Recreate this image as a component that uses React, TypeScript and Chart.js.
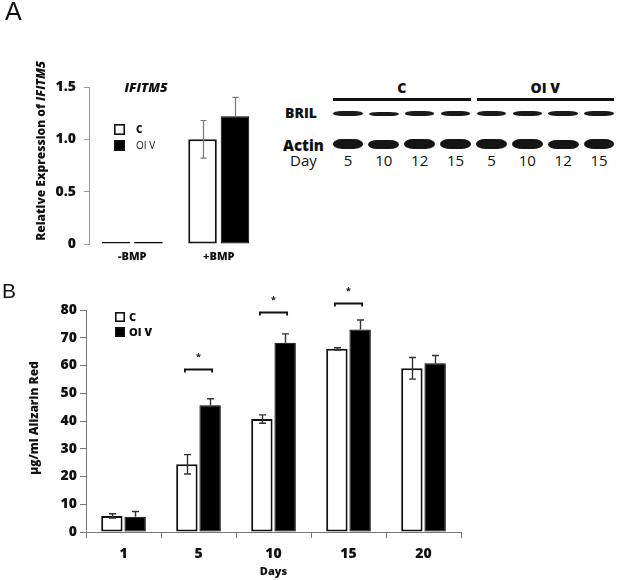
import { useEffect, useRef } from 'react';
import { Chart, registerables } from 'chart.js';

Chart.register(...registerables);

const FONT = '"Open Sans", "DejaVu Sans", sans-serif';
const INK = '#111';
const HEAVY = '800';

// ---------- Panel A data ----------
const aCategories = ['-BMP', '+BMP'];
const aControl = [0.02, 1.0];
const aOIV = [0.02, 1.22];
const aControlErr = [0, 0.18];
const aOIVErr = [0, 0.18];

// ---------- Panel B data ----------
const bDays = ['1', '5', '10', '15', '20'];
const bControl = [5.8, 24.4, 40.7, 66.0, 59.0];
const bOIV = [5.5, 45.7, 68.2, 73.0, 60.8];
const bControlErr = [0.8, 3.5, 1.5, 0.4, 3.9];
const bOIVErr = [1.9, 2.3, 3.2, 3.4, 2.8];
const bSigBracket: (number | null)[] = [null, 58.6, 79.4, 82.6, null];

const seriesLabels = ['C', 'OI V'];

// ---------- Western blot ----------
const blotGroups = ['C', 'OI V'];
const blotDays = ['5', '10', '12', '15'];
const brilIntensity = [1.0, 0.8, 0.95, 0.95, 1.0, 0.9, 0.9, 1.0];
const actinIntensity = [0.95, 0.9, 1.0, 1.0, 1.0, 1.0, 0.9, 1.0];

type Seg = { text: string; italic?: boolean };

interface OverlayCfg {
  errors: number[][];
  errModes: ('both' | 'up')[];
  errColor: string;
  errWidth: number;
  cap: number;
  brackets?: (number | null)[];
  legend: { dx: number; dy: number; size: number; gap: number; rowGap: number; fonts: string[] };
  yTitle: { segs: Seg[]; cx: number; cy: number; size: number };
  title?: { text: string; cx: number; cy: number; font: string };
}

function drawRotated(ctx: CanvasRenderingContext2D, segs: Seg[], cx: number, cy: number, size: number) {
  ctx.save();
  ctx.translate(cx, cy);
  ctx.rotate(-Math.PI / 2);
  const fonts = segs.map((s) => `${s.italic ? 'italic ' : ''}${HEAVY} ${size}px ${FONT}`);
  let total = 0;
  const widths = segs.map((s, i) => {
    ctx.font = fonts[i];
    const w = ctx.measureText(s.text).width;
    total += w;
    return w;
  });
  let x = -total / 2;
  ctx.textBaseline = 'middle';
  ctx.textAlign = 'left';
  ctx.fillStyle = INK;
  segs.forEach((s, i) => {
    ctx.font = fonts[i];
    ctx.fillText(s.text, x, 0);
    x += widths[i];
  });
  ctx.restore();
}

function overlay(name: string, cfg: OverlayCfg) {
  return {
    id: 'overlay_' + name,
    afterDatasetsDraw(chart: any) {
      const ctx: CanvasRenderingContext2D = chart.ctx;
      const ys = chart.scales.y;
      ctx.save();
      cfg.errors.forEach((errs, di) => {
        const meta = chart.getDatasetMeta(di);
        const vals = chart.data.datasets[di].data as number[];
        meta.data.forEach((el: any, i: number) => {
          const e = errs[i];
          if (!e) return;
          const v = vals[i];
          const both = cfg.errModes[di] === 'both';
          const yTop = ys.getPixelForValue(v + e);
          const yBot = ys.getPixelForValue(both ? v - e : v);
          const x = Math.round(el.x) + 0.5;
          ctx.strokeStyle = cfg.errColor;
          ctx.lineWidth = cfg.errWidth;
          ctx.beginPath();
          ctx.moveTo(x, yTop);
          ctx.lineTo(x, yBot);
          ctx.moveTo(x - cfg.cap, yTop);
          ctx.lineTo(x + cfg.cap, yTop);
          if (both) {
            ctx.moveTo(x - cfg.cap, yBot);
            ctx.lineTo(x + cfg.cap, yBot);
          }
          ctx.stroke();
        });
      });
      if (cfg.brackets) {
        const m0 = chart.getDatasetMeta(0);
        const m1 = chart.getDatasetMeta(1);
        cfg.brackets.forEach((bv, i) => {
          if (bv == null) return;
          const x1 = m0.data[i].x - 2;
          const x2 = m1.data[i].x + 2;
          const y = Math.round(ys.getPixelForValue(bv)) + 0.5;
          ctx.strokeStyle = INK;
          ctx.lineWidth = 1.8;
          ctx.beginPath();
          ctx.moveTo(x1, y + 3);
          ctx.lineTo(x1, y);
          ctx.lineTo(x2, y);
          ctx.lineTo(x2, y + 3);
          ctx.stroke();
          ctx.fillStyle = INK;
          ctx.font = `bold 9px ${FONT}`;
          ctx.textAlign = 'center';
          ctx.textBaseline = 'middle';
          ctx.fillText('*', (x1 + x2) / 2, y - 12);
        });
      }
      ctx.restore();
    },
    afterDraw(chart: any) {
      const ctx: CanvasRenderingContext2D = chart.ctx;
      const { left, top } = chart.chartArea;
      const L = cfg.legend;
      ctx.save();
      chart.data.datasets.forEach((ds: any, i: number) => {
        const x = left + L.dx;
        const y = top + L.dy + i * L.rowGap;
        ctx.fillStyle = ds.backgroundColor;
        ctx.fillRect(x, y, L.size, L.size);
        ctx.strokeStyle = INK;
        ctx.lineWidth = 1.6;
        ctx.strokeRect(x + 0.8, y + 0.8, L.size - 1.6, L.size - 1.6);
        ctx.font = L.fonts[i];
        ctx.fillStyle = INK;
        ctx.textBaseline = 'middle';
        ctx.textAlign = 'left';
        ctx.fillText(ds.label, x + L.size + L.gap, y + L.size / 2 + 0.5);
      });
      drawRotated(ctx, cfg.yTitle.segs, cfg.yTitle.cx, cfg.yTitle.cy, cfg.yTitle.size);
      if (cfg.title) {
        ctx.font = cfg.title.font;
        ctx.fillStyle = INK;
        ctx.textAlign = 'center';
        ctx.textBaseline = 'middle';
        ctx.fillText(cfg.title.text, cfg.title.cx, cfg.title.cy);
      }
      ctx.restore();
    },
  };
}

function configA(): any {
  return {
    type: 'bar',
    data: {
      labels: aCategories,
      datasets: [
        { label: seriesLabels[0], data: aControl, backgroundColor: '#ffffff', borderColor: INK, borderWidth: 2, borderSkipped: false },
        { label: seriesLabels[1], data: aOIV, backgroundColor: '#000000', borderColor: '#000000', borderWidth: 1, borderSkipped: false },
      ],
    },
    options: {
      responsive: false,
      animation: false,
      events: [],
      layout: { padding: { top: 87, right: 18, left: 0, bottom: 0 } },
      datasets: { bar: { categoryPercentage: 0.75, barPercentage: 0.88 } },
      plugins: { legend: { display: false }, tooltip: { enabled: false } },
      scales: {
        x: {
          grid: { display: false, drawTicks: false },
          border: { display: false },
          ticks: { color: INK, font: { family: FONT, size: 11, weight: HEAVY }, padding: 6 },
          afterFit: (s: any) => { s.height = 46; },
        },
        y: {
          min: 0,
          max: 1.5,
          ticks: { stepSize: 0.5, color: INK, font: { family: FONT, size: 14, weight: HEAVY }, padding: 8 },
          grid: { drawOnChartArea: false, tickLength: 5, color: '#999' },
          border: { color: '#999', width: 1 },
          afterFit: (s: any) => { s.width = 89; },
        },
      },
    },
    plugins: [
      overlay('a', {
        errors: [aControlErr, aOIVErr],
        errModes: ['both', 'up'],
        errColor: '#777',
        errWidth: 1.2,
        cap: 3,
        legend: { dx: 25, dy: 37, size: 11, gap: 11, rowGap: 16, fonts: [`${HEAVY} 10px ${FONT}`, `10px ${FONT}`] },
        yTitle: { segs: [{ text: 'Relative Expression of ' }, { text: 'IFITM5', italic: true }], cx: 42, cy: 151, size: 12 },
        title: { text: 'IFITM5', cx: 146, cy: 88, font: `italic ${HEAVY} 13px ${FONT}` },
      }),
    ],
  };
}

function configB(): any {
  return {
    type: 'bar',
    data: {
      labels: bDays,
      datasets: [
        { label: seriesLabels[0], data: bControl, backgroundColor: '#ffffff', borderColor: INK, borderWidth: 2, borderSkipped: false },
        { label: seriesLabels[1], data: bOIV, backgroundColor: '#000000', borderColor: '#000000', borderWidth: 1, borderSkipped: false },
      ],
    },
    options: {
      responsive: false,
      animation: false,
      events: [],
      layout: { padding: { top: 30, right: 164, left: 0, bottom: 0 } },
      datasets: { bar: { categoryPercentage: 0.62, barPercentage: 0.92 } },
      plugins: { legend: { display: false }, tooltip: { enabled: false } },
      scales: {
        x: {
          grid: { display: true, drawOnChartArea: false, tickLength: 6, color: '#777' },
          border: { color: '#777', width: 1 },
          ticks: { color: INK, font: { family: FONT, size: 14, weight: HEAVY }, padding: 8 },
          title: { display: true, text: 'Days', color: INK, font: { family: FONT, size: 11, weight: HEAVY }, padding: { top: 0, bottom: 2 } },
          afterFit: (s: any) => { s.height = 48; },
        },
        y: {
          min: 0,
          max: 80,
          ticks: { stepSize: 10, color: INK, font: { family: FONT, size: 14, weight: HEAVY }, padding: 3 },
          grid: { drawOnChartArea: false, tickLength: 6, color: '#777' },
          border: { color: '#777', width: 1 },
          afterFit: (s: any) => { s.width = 86; },
        },
      },
    },
    plugins: [
      overlay('b', {
        errors: [bControlErr, bOIVErr],
        errModes: ['both', 'up'],
        errColor: '#333',
        errWidth: 1.4,
        cap: 3.5,
        brackets: bSigBracket,
        legend: { dx: 29, dy: 2, size: 10, gap: 4, rowGap: 15, fonts: [`${HEAVY} 11px ${FONT}`, `${HEAVY} 11px ${FONT}`] },
        yTitle: { segs: [{ text: 'μg/ml Alizarin Red' }], cx: 35, cy: 138, size: 12 },
      }),
    ],
  };
}

function Blot() {
  const groupW = 287 / blotGroups.length;
  return (
    <>
      {blotGroups.map((g, gi) => (
        <div key={g} style={{ position: 'absolute', left: 330 + gi * groupW, top: 79, width: groupW, textAlign: 'center', color: INK, fontFamily: FONT }}>
          <div style={{ fontWeight: 800, fontSize: 14, lineHeight: '18px' }}>{g}</div>
          <div style={{ height: 3, background: INK, margin: '1px 3px 0' }} />
        </div>
      ))}
      <div style={{ position: 'absolute', left: 285, top: 104, fontFamily: FONT, fontWeight: 800, fontSize: 14, lineHeight: '18px', color: INK }}>BRIL</div>
      <div style={{ position: 'absolute', left: 283, top: 135, fontFamily: FONT, fontWeight: 800, fontSize: 15, lineHeight: '20px', color: INK }}>Actin</div>
      <div style={{ position: 'absolute', left: 290, top: 151, fontFamily: FONT, fontSize: 15, lineHeight: '18px', color: INK }}>Day</div>
      <div style={{ position: 'absolute', left: 330, top: 100, width: 287, height: 75, display: 'flex' }}>
        {blotGroups.flatMap((g, gi) =>
          blotDays.map((d, di) => {
            const i = gi * blotDays.length + di;
            const bh = 5 * brilIntensity[i];
            const ah = 10 * actinIntensity[i];
            return (
              <div key={g + d} style={{ flex: 1, position: 'relative' }}>
                <div style={{ position: 'absolute', left: '9%', width: '82%', top: 13.5 - bh / 2, height: bh, background: '#1a1a1a', borderRadius: '30% / 50%', filter: 'blur(0.6px)' }} />
                <div style={{ position: 'absolute', left: '7%', width: '86%', top: 44 - ah / 2, height: ah, background: '#151515', borderRadius: '30% / 50%', filter: 'blur(0.7px)' }} />
                <div style={{ position: 'absolute', left: 0, right: 0, top: 51, textAlign: 'center', fontFamily: FONT, fontSize: 15, lineHeight: '18px', color: INK }}>{d}</div>
              </div>
            );
          })
        )}
      </div>
    </>
  );
}

export default function App() {
  const refA = useRef<HTMLCanvasElement>(null);
  const refB = useRef<HTMLCanvasElement>(null);
  useEffect(() => {
    const a = new Chart(refA.current as HTMLCanvasElement, configA());
    const b = new Chart(refB.current as HTMLCanvasElement, configB());
    return () => {
      a.destroy();
      b.destroy();
    };
  }, []);
  return (
    <div style={{ position: 'fixed', left: 0, top: 0, width: 625, height: 580, background: '#fff', overflow: 'hidden' }}>
      <canvas ref={refA} width={280} height={290} style={{ position: 'absolute', left: 0, top: 0, width: 280, height: 290 }} />
      <canvas ref={refB} width={625} height={300} style={{ position: 'absolute', left: 0, top: 280, width: 625, height: 300 }} />
      <Blot />
      <div style={{ position: 'absolute', left: 5, top: -1, fontFamily: '"Liberation Sans", Arial, sans-serif', fontSize: 25, lineHeight: 1, color: INK }}>A</div>
      <div style={{ position: 'absolute', left: 2, top: 280, fontFamily: '"Liberation Sans", Arial, sans-serif', fontSize: 21, lineHeight: 1, color: INK }}>B</div>
    </div>
  );
}
